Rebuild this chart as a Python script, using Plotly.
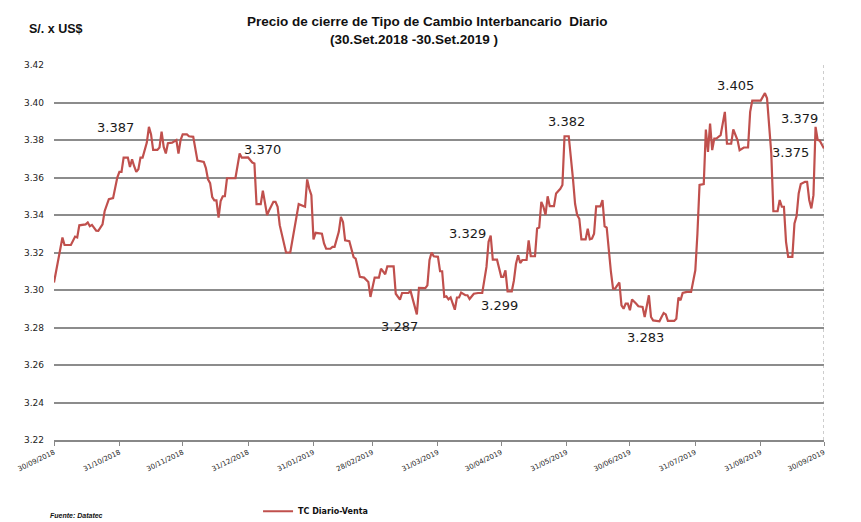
import plotly.graph_objects as go

# ---- data ----
dates = [
 "2018-09-30","2018-10-04","2018-10-05","2018-10-08","2018-10-10","2018-10-11","2018-10-12","2018-10-15",
 "2018-10-16","2018-10-17","2018-10-18","2018-10-19","2018-10-20","2018-10-21","2018-10-22","2018-10-23",
 "2018-10-24","2018-10-26","2018-10-28","2018-10-30","2018-10-31","2018-11-01","2018-11-02","2018-11-04",
 "2018-11-05","2018-11-06","2018-11-07","2018-11-08","2018-11-09","2018-11-10","2018-11-11","2018-11-13",
 "2018-11-14","2018-11-15","2018-11-16","2018-11-18","2018-11-19","2018-11-20","2018-11-21","2018-11-22",
 "2018-11-23","2018-11-25","2018-11-27","2018-11-28","2018-11-29","2018-11-30","2018-12-02","2018-12-03",
 "2018-12-05","2018-12-06","2018-12-07","2018-12-10","2018-12-11","2018-12-12","2018-12-13","2018-12-14",
 "2018-12-15","2018-12-16","2018-12-17","2018-12-18","2018-12-19","2018-12-20","2018-12-21","2018-12-25",
 "2018-12-26","2018-12-27","2018-12-28","2018-12-31","2019-01-02","2019-01-03","2019-01-04","2019-01-06",
 "2019-01-07","2019-01-08","2019-01-09","2019-01-10","2019-01-12","2019-01-13","2019-01-14","2019-01-15",
 "2019-01-18","2019-01-20","2019-01-23","2019-01-24","2019-01-27","2019-01-28","2019-01-29","2019-01-30",
 "2019-01-31","2019-02-01","2019-02-04","2019-02-05","2019-02-06","2019-02-08","2019-02-09","2019-02-10",
 "2019-02-12","2019-02-13","2019-02-14","2019-02-15","2019-02-17","2019-02-19","2019-02-20","2019-02-22",
 "2019-02-24","2019-02-26","2019-02-27","2019-03-01","2019-03-03","2019-03-04","2019-03-06","2019-03-07",
 "2019-03-10","2019-03-11","2019-03-13","2019-03-14","2019-03-17","2019-03-18","2019-03-21","2019-03-22",
 "2019-03-25","2019-03-26","2019-03-27","2019-03-28","2019-03-29","2019-03-31","2019-04-01","2019-04-02",
 "2019-04-03","2019-04-04","2019-04-05","2019-04-06","2019-04-08","2019-04-09","2019-04-10","2019-04-11",
 "2019-04-13","2019-04-14","2019-04-15","2019-04-17","2019-04-19","2019-04-21","2019-04-23","2019-04-24",
 "2019-04-25","2019-04-26","2019-04-28","2019-04-29","2019-04-30","2019-05-01","2019-05-02","2019-05-03",
 "2019-05-05","2019-05-06","2019-05-07","2019-05-08","2019-05-09","2019-05-10","2019-05-12","2019-05-13",
 "2019-05-14","2019-05-16","2019-05-17","2019-05-18","2019-05-19","2019-05-20","2019-05-21","2019-05-22",
 "2019-05-23","2019-05-25","2019-05-26","2019-05-28","2019-05-29","2019-05-30","2019-06-01","2019-06-03",
 "2019-06-04","2019-06-05","2019-06-06","2019-06-07","2019-06-09","2019-06-10","2019-06-11","2019-06-12",
 "2019-06-13","2019-06-14","2019-06-16","2019-06-17","2019-06-18","2019-06-19","2019-06-20","2019-06-21",
 "2019-06-22","2019-06-23","2019-06-24","2019-06-25","2019-06-26","2019-06-27","2019-06-28","2019-06-29",
 "2019-06-30","2019-07-01","2019-07-03","2019-07-04","2019-07-06","2019-07-07","2019-07-09","2019-07-10",
 "2019-07-11","2019-07-14","2019-07-15","2019-07-16","2019-07-17","2019-07-18","2019-07-21","2019-07-22",
 "2019-07-23","2019-07-24","2019-07-25","2019-07-27","2019-07-29","2019-07-31","2019-08-01","2019-08-02",
 "2019-08-04","2019-08-05","2019-08-06","2019-08-07","2019-08-08","2019-08-09","2019-08-10","2019-08-12",
 "2019-08-14","2019-08-15","2019-08-17","2019-08-18","2019-08-20","2019-08-21","2019-08-23","2019-08-25",
 "2019-08-26","2019-08-27","2019-08-31","2019-09-02","2019-09-03","2019-09-05","2019-09-06","2019-09-08",
 "2019-09-09","2019-09-10","2019-09-11","2019-09-12","2019-09-13","2019-09-15","2019-09-16","2019-09-17",
 "2019-09-18","2019-09-19","2019-09-21","2019-09-22","2019-09-23","2019-09-24","2019-09-25","2019-09-26",
 "2019-09-27","2019-09-28","2019-09-30",
]
tc_venta = [
 3.304,3.328,3.324,3.324,3.3285,3.328,3.3345,3.335,
 3.336,3.334,3.3347,3.333,3.3316,3.3315,3.333,3.335,
 3.342,3.3484,3.349,3.360,3.363,3.363,3.3706,3.3706,
 3.3656,3.3697,3.366,3.363,3.3644,3.3706,3.3706,3.3786,
 3.387,3.383,3.3747,3.3747,3.376,3.3845,3.3763,3.3728,
 3.3783,3.3786,3.380,3.3728,3.380,3.383,3.383,3.382,
 3.3817,3.375,3.369,3.3683,3.365,3.359,3.357,3.3496,
 3.3478,3.3478,3.3386,3.3475,3.350,3.350,3.3596,3.3596,
 3.366,3.3728,3.3706,3.3707,3.368,3.3675,3.3458,3.3458,
 3.353,3.346,3.340,3.3425,3.347,3.347,3.3444,3.3346,
 3.320,3.320,3.339,3.3458,3.3444,3.359,3.354,3.3506,
 3.327,3.3305,3.330,3.3248,3.322,3.322,3.323,3.323,
 3.331,3.339,3.3363,3.3265,3.326,3.3176,3.3167,3.307,
 3.3066,3.3043,3.2963,3.3066,3.3066,3.3114,3.3084,3.3126,
 3.3126,3.298,3.2949,3.2984,3.2984,3.2995,3.287,3.3011,
 3.301,3.3025,3.316,3.320,3.318,3.3177,3.310,3.310,
 3.2963,3.2966,3.295,3.296,3.2895,3.296,3.296,3.2986,
 3.2972,3.2972,3.2952,3.298,3.2984,3.2984,3.3123,3.3257,
 3.329,3.3162,3.3162,3.312,3.307,3.307,3.3105,3.2993,
 3.2993,3.305,3.314,3.3185,3.3144,3.316,3.316,3.3265,
 3.318,3.318,3.3328,3.3333,3.347,3.3444,3.340,3.350,
 3.3447,3.3447,3.3515,3.354,3.356,3.382,3.382,3.3594,
 3.346,3.340,3.338,3.327,3.327,3.3327,3.327,3.3274,
 3.330,3.3446,3.3446,3.348,3.334,3.3333,3.3194,3.3096,
 3.3007,3.3007,3.3025,3.304,3.2918,3.290,3.2927,3.2927,
 3.2892,3.2949,3.2927,3.2913,3.291,3.2856,3.2972,3.2856,
 3.2838,3.2833,3.2856,3.2877,3.287,3.2835,3.2835,3.2847,
 3.296,3.2945,3.2984,3.299,3.299,3.3105,3.330,3.356,
 3.3565,3.3856,3.3737,3.3888,3.3746,3.3808,3.3808,3.3826,
 3.395,3.378,3.378,3.3856,3.380,3.3746,3.376,3.376,
 3.395,3.401,3.401,3.405,3.4022,3.373,3.342,3.342,
 3.348,3.3444,3.3444,3.3257,3.3177,3.3177,3.3355,3.3394,
 3.3515,3.3565,3.3577,3.3577,3.348,3.3435,3.3506,3.387,
 3.380,3.3796,3.3755,
]

tick_dates = ["2018-09-30","2018-10-31","2018-11-30","2018-12-31","2019-01-31","2019-02-28",
              "2019-03-31","2019-04-30","2019-05-31","2019-06-30","2019-07-31","2019-08-31","2019-09-30"]
tick_labels = ["30/09/2018","31/10/2018","30/11/2018","31/12/2018","31/01/2019","28/02/2019",
               "31/03/2019","30/04/2019","31/05/2019","30/06/2019","31/07/2019","31/08/2019","30/09/2019"]
y_ticks = [3.22, 3.24, 3.26, 3.28, 3.30, 3.32, 3.34, 3.36, 3.38, 3.40, 3.42]

label_texts = ["3.387","3.370","3.287","3.329","3.299","3.382","3.283","3.405","3.379","3.375"]
label_dates = ["2018-10-29","2019-01-07","2019-03-13","2019-04-14","2019-04-29","2019-05-31",
               "2019-07-07 12:00","2019-08-19","2019-09-18 12:00","2019-09-14"]
label_vals = [3.3869,3.3752,3.2803,3.3304,3.2915,3.3901,3.2749,3.4093,3.3917,3.3736]

fig = go.Figure()
fig.add_trace(go.Scatter(
    x=dates, y=tc_venta, mode="lines", name="TC Diario-Venta",
    line=dict(color="#C0504D", width=2.2),
))

annotations = []
for t, d, v in zip(label_texts, label_dates, label_vals):
    annotations.append(dict(x=d, y=v, xref="x", yref="y", text=t, showarrow=False,
                            font=dict(family="DejaVu Sans", size=13, color="#1a1a1a")))

annotations += [
    dict(text="<b>Precio de cierre de Tipo de Cambio Interbancario  Diario</b>",
         xref="paper", yref="paper", x=0.4857, y=1.1147, showarrow=False, xanchor="center", yanchor="middle",
         font=dict(family="Liberation Sans", size=13.5, color="#111")),
    dict(text="<b>(30.Set.2018 -30.Set.2019 )</b>",
         xref="paper", yref="paper", x=0.4675, y=1.0667, showarrow=False, xanchor="center", yanchor="middle",
         font=dict(family="Liberation Sans", size=13.5, color="#111")),
    dict(text="<b>S/. x US$</b>", xref="paper", yref="paper", x=-0.035, y=1.096,
         showarrow=False, xanchor="left", yanchor="middle",
         font=dict(family="Liberation Sans", size=12.5, color="#111")),
    dict(text="<b><i>Fuente: Datatec</i></b>", xref="paper", yref="paper", x=-0.008, y=-0.2,
         showarrow=False, xanchor="left", yanchor="middle",
         font=dict(family="Liberation Sans", size=7, color="#111")),
]

shapes = [
    dict(type="line", xref="x", yref="paper", x0="2019-09-30", x1="2019-09-30", y0=0, y1=1,
         line=dict(color="#9a9a9a", width=1, dash="dot")),
]

# page body has an 8px margin, so the figure is sized/offset to compensate
fig.update_layout(
    width=853, height=514,
    margin=dict(l=46, r=37, t=57, b=82, autoexpand=False),
    paper_bgcolor="white", plot_bgcolor="white",
    annotations=annotations, shapes=shapes,
    showlegend=True,
    legend=dict(orientation="h", x=0.265, y=-0.19, xanchor="left", yanchor="middle",
                font=dict(family="DejaVu Sans", size=8, color="#111", weight="bold"),
                bgcolor="rgba(0,0,0,0)"),
    xaxis=dict(type="date", range=["2018-09-30", "2019-09-30"], automargin=False,
               tickvals=tick_dates, ticktext=tick_labels, tickangle=-26,
               tickfont=dict(family="DejaVu Sans", size=7, color="#222"),
               ticks="outside", ticklen=4, tickcolor="#888", showgrid=False,
               showline=True, linecolor="#888", linewidth=1.5, zeroline=False),
    yaxis=dict(range=[3.22, 3.42], tickvals=y_ticks, ticktext=[f"{v:.2f}" for v in y_ticks],
               automargin=False,
               tickfont=dict(family="DejaVu Sans", size=9, color="#222"),
               showgrid=True, gridcolor="#8c8c8c", gridwidth=1.5, zeroline=False,
               showline=False, ticks="", ticklabelstandoff=9),
)

fig.write_html("out.html")
